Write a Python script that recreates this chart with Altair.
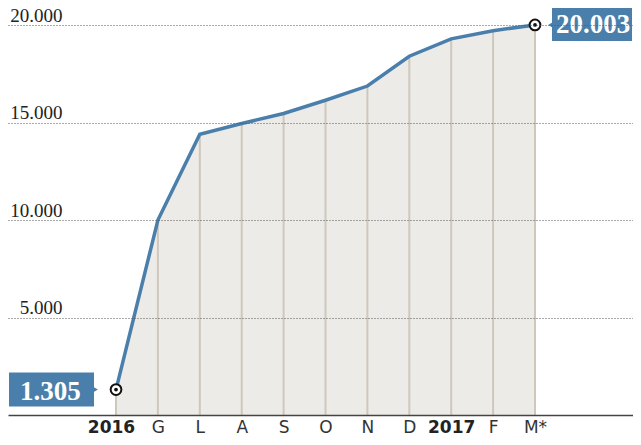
import altair as alt
import pandas as pd

months = ["2016", "G", "L", "A", "S", "O", "N", "D", "2017", "F", "M*"]
values = [1305, 10000, 14400, 14950, 15460, 16140, 16870, 18400, 19290, 19710, 20003]
y_ticks = [5000, 10000, 15000, 20000]
first_label = "1.305"
last_label = "20.003"

df = pd.DataFrame({"idx": list(range(len(months))), "month": months, "value": values})
first_df = df.iloc[[0]].assign(lab=first_label)
last_df = df.iloc[[-1]].assign(lab=last_label)
ends_df = pd.concat([first_df, last_df])

BLUE = "#4a7fab"
label_expr = "[" + ",".join("'%s'" % m for m in months) + "][datum.value]"

xscale = alt.Scale(domain=[-2.578, 12.339], nice=False, zero=False)
yscale = alt.Scale(domain=[0, 20872], nice=False, zero=False)

x_enc = alt.X("idx:Q", scale=xscale, axis=alt.Axis(
    values=list(range(len(months))), labelExpr=label_expr, title=None,
    grid=False, ticks=False, tickSize=0, domain=True, domainColor="#444",
    domainWidth=1.5, labelFont="DejaVu Sans", labelFontSize=17,
    labelFontWeight=alt.condition("datum.value == 0 || datum.value == 8", alt.value("bold"), alt.value("normal")),
    labelColor=alt.condition("datum.value == 0 || datum.value == 8", alt.value("#222"), alt.value("#333")),
    labelOffset=alt.condition("datum.value == 0", alt.value(-5), alt.value(0)),
    labelBaseline="alphabetic", labelPadding=17, labelAngle=0, zindex=1))

y_enc = alt.Y("value:Q", scale=yscale, axis=alt.Axis(
    values=y_ticks, title=None, grid=True, gridDash=[1, 2], gridColor="#555",
    gridWidth=1, ticks=False, tickSize=0, domain=False,
    labelExpr="replace(format(datum.value, ','), ',', '.')",
    labelAlign="right", labelBaseline="alphabetic", labelPadding=-54,
    labelOffset=-4, labelFont="Liberation Serif", labelFontSize=19,
    labelColor="#222", zindex=1))

base = alt.Chart(df)

area = base.mark_area(color="#edebe7", opacity=1).encode(x=x_enc, y=y_enc, y2=alt.datum(0))
rules = base.mark_rule(color="#cec7bc", strokeWidth=2).encode(x="idx:Q", y="value:Q", y2=alt.datum(0))
line = base.mark_line(color=BLUE, strokeWidth=3.5).encode(x="idx:Q", y="value:Q")

ring = alt.Chart(ends_df).mark_point(shape="circle", filled=False, fill="white", fillOpacity=1,
                                     stroke="#111", strokeWidth=2, size=115, opacity=1).encode(x="idx:Q", y="value:Q")
dot = alt.Chart(ends_df).mark_circle(color="#111", size=14, opacity=1).encode(x="idx:Q", y="value:Q")

box_first = alt.Chart(first_df).mark_rect(color=BLUE, xOffset=-107, x2Offset=-22, yOffset=-17, y2Offset=17).encode(
    x="idx:Q", x2="idx:Q", y="value:Q", y2="value:Q")
tri_first = alt.Chart(first_df).mark_point(shape="triangle-right", filled=True, color=BLUE, opacity=1,
                                           size=45, xOffset=-21).encode(x="idx:Q", y="value:Q")
txt_first = alt.Chart(first_df).mark_text(color="white", font="Liberation Serif", fontWeight="bold", fontSize=27,
                                          align="left", baseline="alphabetic", dx=-96, dy=10).encode(
    x="idx:Q", y="value:Q", text="lab:N")

box_last = alt.Chart(last_df).mark_rect(color=BLUE, xOffset=17, x2Offset=97, yOffset=-18, y2Offset=16).encode(
    x="idx:Q", x2="idx:Q", y="value:Q", y2="value:Q")
tri_last = alt.Chart(last_df).mark_point(shape="triangle-left", filled=True, color=BLUE, opacity=1,
                                         size=45, xOffset=16).encode(x="idx:Q", y="value:Q")
txt_last = alt.Chart(last_df).mark_text(color="white", font="Liberation Serif", fontWeight="bold", fontSize=27,
                                        align="left", baseline="alphabetic", dx=21, dy=8).encode(
    x="idx:Q", y="value:Q", text="lab:N")

chart = alt.layer(area, rules, line, ring, dot, box_first, tri_first, txt_first,
                  box_last, tri_last, txt_last).properties(
    width=625, height=407,
    autosize=alt.AutoSizeParams(type="none"),
    padding={"left": 0, "right": 0, "top": 0, "bottom": 22},
).configure_view(stroke=None)

chart.save("out.html", embed_options={"renderer": "svg", "actions": False})
